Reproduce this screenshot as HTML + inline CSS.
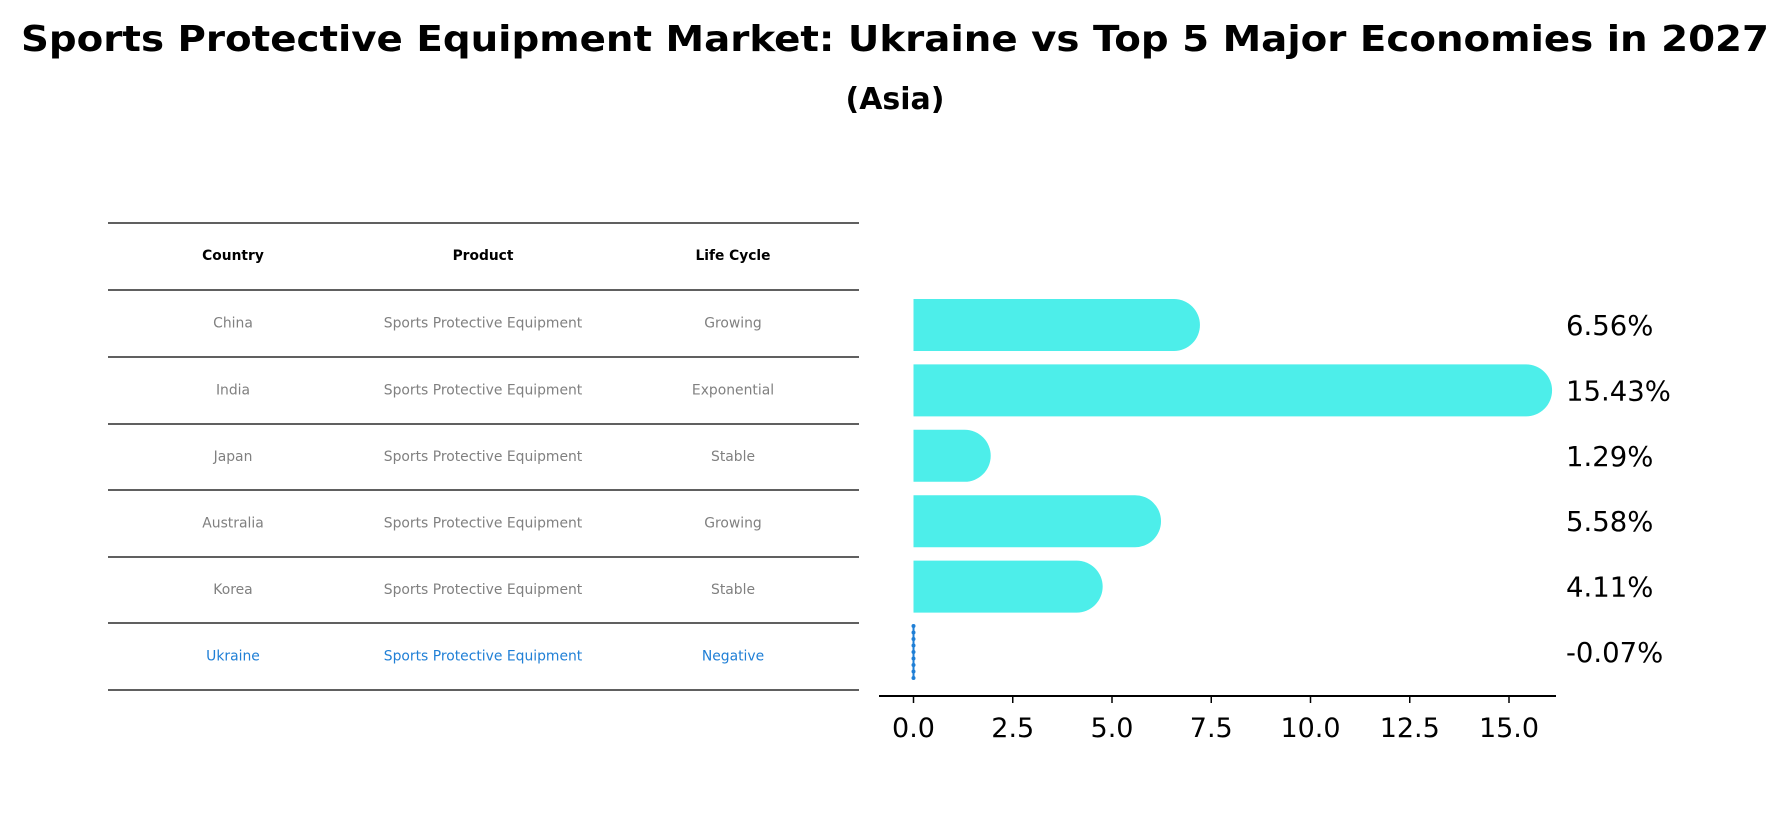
<!DOCTYPE html>
<html><head><meta charset="utf-8"><style>
html,body{margin:0;padding:0;background:#fff;}
svg{display:block;font-family:"DejaVu Sans","Liberation Sans",sans-serif;}
</style></head><body>
<svg id="chart" width="1791" height="823" viewBox="0 0 1791 823" xmlns="http://www.w3.org/2000/svg">
<text x="895" y="51" text-anchor="middle" font-size="36" font-weight="bold" textLength="1748" lengthAdjust="spacingAndGlyphs">Sports Protective Equipment Market: Ukraine vs Top 5 Major Economies in 2027</text>
<text x="895" y="109" text-anchor="middle" font-size="30" font-weight="bold">(Asia)</text>
<g id="table"></g>
<g id="bars"></g>
</svg>
<script>
const countries = ["China","India","Japan","Australia","Korea","Ukraine"];
const products = ["Sports Protective Equipment","Sports Protective Equipment","Sports Protective Equipment","Sports Protective Equipment","Sports Protective Equipment","Sports Protective Equipment"];
const lifeCycles = ["Growing","Exponential","Stable","Growing","Stable","Negative"];
const growthValues = [6.56, 15.43, 1.29, 5.58, 4.11, -0.07];
const xTicks = [0, 2.5, 5, 7.5, 10, 12.5, 15];

const NS = "http://www.w3.org/2000/svg";
function mk(tag, attrs, parent, text){
  const e = document.createElementNS(NS, tag);
  for (const k in attrs) e.setAttribute(k, attrs[k]);
  if (text !== undefined) e.textContent = text;
  parent.appendChild(e);
  return e;
}
const tbl = document.getElementById("table");
const lineYs = [223,290,357,424,490,557,623,690];
lineYs.forEach((y,i)=>{
  const l = mk("line",{x1:108,x2:859,y1:y,y2:y,stroke:"#000","stroke-width":1.3},tbl);
  
  
});
const colX = [233,483,733];
const headers = ["Country","Product","Life Cycle"];
headers.forEach((h,i)=>{
  const t = mk("text",{x:colX[i],y:260,"text-anchor":"middle","font-size":13.8,"font-weight":"bold"},tbl,h);
  
  
});
countries.forEach((c,r)=>{
  const y = (lineYs[r+1]+lineYs[r+2])/2 + 4;
  const col = c==="Ukraine" ? "#1f7fd6" : "#808080";
  [c, products[r], lifeCycles[r]].forEach((v,i)=>{
    const t = mk("text",{x:colX[i],y:y,"text-anchor":"middle","font-size":13.9,fill:col},tbl,v);
    
    
  });
});
const g = document.getElementById("bars");
const x0 = 913.5, unit = 39.7;
const xs = v => x0 + v*unit;
const ys = i => 325 + 65.4*i;
const barH = 52, r = 26;
growthValues.forEach((v,i)=>{
  const cy = ys(i);
  if (v >= 0){
    const xe = xs(v);
    const p = mk("path",{d:`M${x0},${cy-barH/2} L${xe},${cy-barH/2} A${r},${r} 0 0 1 ${xe},${cy+barH/2} L${x0},${cy+barH/2} Z`,fill:"#4deeea"},g);
    
    
  } else {
    const l = mk("line",{x1:xs(0),x2:xs(0),y1:cy-barH/2,y2:cy+barH/2,stroke:"#1f7fd6","stroke-width":2},g);
    
    
    for (let k=0;k<=8;k++){
      const d = mk("circle",{cx:xs(0),cy:cy-barH/2+k*barH/8,r:2,fill:"#1f7fd6"},g);
      
      
    }
  }
  const t = mk("text",{x:1566,y:cy+10,"font-size":27.5},g,v.toFixed(2)+"%");
  
  
});
const ax = mk("line",{x1:879,x2:1556,y1:696,y2:696,stroke:"#000","stroke-width":2},g);


xTicks.forEach(v=>{
  const tk = mk("line",{x1:xs(v),x2:xs(v),y1:696,y2:703,stroke:"#000","stroke-width":1.5},g);
  
  
  const t = mk("text",{x:xs(v),y:737,"text-anchor":"middle","font-size":27},g,v.toFixed(1));
  
  
});
</script>
</body></html>
